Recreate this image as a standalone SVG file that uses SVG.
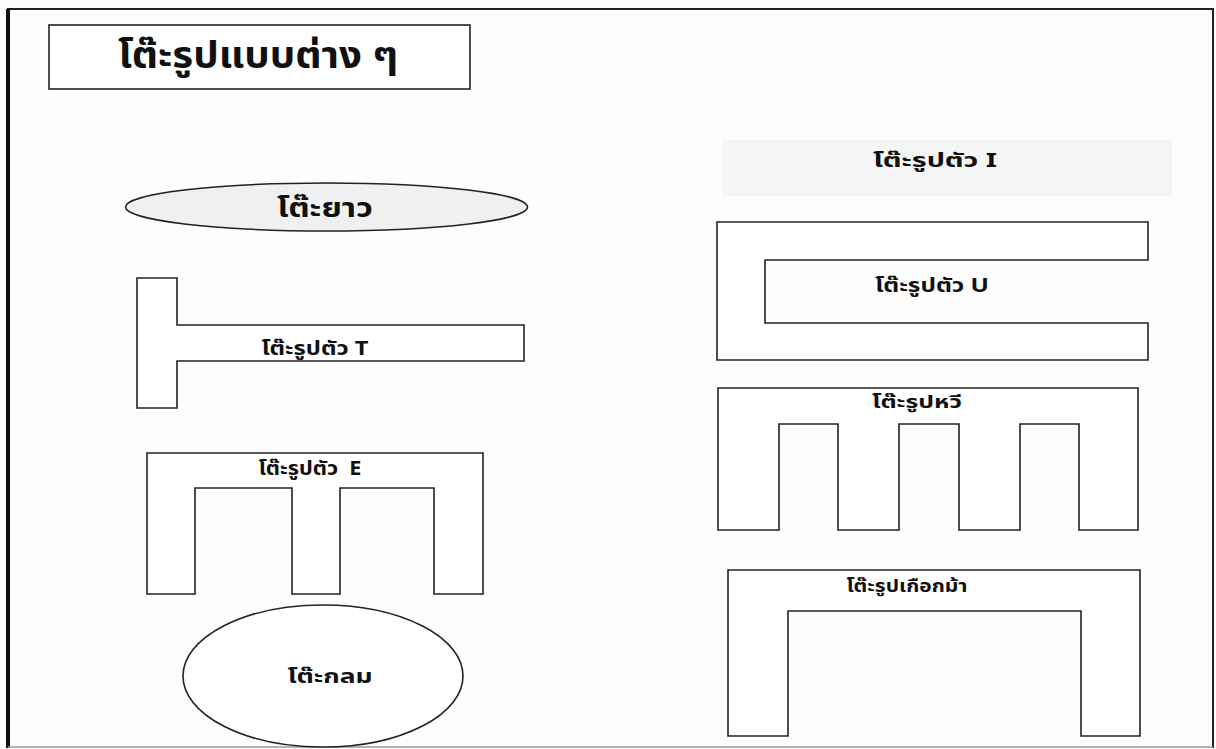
<svg xmlns="http://www.w3.org/2000/svg" width="1216" height="749" viewBox="0 0 1216 749">
<style>
.shape{fill:#fff;stroke:#222;stroke-width:1.6}
.lbl{font-family:"Noto Sans Thai","Noto Sans","DejaVu Sans","Liberation Sans",sans-serif;font-weight:bold;fill:#111;text-anchor:middle}
</style>
<rect x="0" y="0" width="1216" height="749" fill="#fdfdfd"/>
<g id="frame">
<path d="M8,748 V9 H1213 V748" fill="none" stroke="#222" stroke-width="2"/>
<line x1="8" y1="9" x2="8" y2="748" stroke="#111" stroke-width="4"/>
<line x1="8" y1="747" x2="1213" y2="747" stroke="#999" stroke-width="1.5"/>
</g>
<g id="title">
<rect x="49" y="25" width="421" height="64" class="shape"/>
<text x="258" y="68" class="lbl" font-size="38" textLength="280" lengthAdjust="spacingAndGlyphs">โต๊ะรูปแบบต่าง ๆ</text>
</g>
<g id="long-table">
<ellipse cx="326.5" cy="207" rx="201" ry="24" fill="#f0f0f0" stroke="#222" stroke-width="1.6"/>
<text x="325" y="217" class="lbl" font-size="26" textLength="96" lengthAdjust="spacingAndGlyphs">โต๊ะยาว</text>
</g>
<g id="t-table">
<path class="shape" d="M137,278 H177 V325 H524 V361 H177 V408 H137 Z"/>
<text x="315" y="355" class="lbl" font-size="20" textLength="107" lengthAdjust="spacingAndGlyphs">โต๊ะรูปตัว T</text>
</g>
<g id="e-table">
<path class="shape" d="M147,453 H483 V594 H434 V488 H340 V594 H292 V488 H195 V594 H147 Z"/>
<text x="310" y="475" class="lbl" font-size="19" textLength="103" lengthAdjust="spacingAndGlyphs" xml:space="preserve">โต๊ะรูปตัว  E</text>
</g>
<g id="round-table">
<ellipse cx="323" cy="676" rx="140" ry="71" class="shape"/>
<text x="330" y="683" class="lbl" font-size="20" textLength="85" lengthAdjust="spacingAndGlyphs">โต๊ะกลม</text>
</g>
<g id="i-table">
<rect x="722" y="140" width="450" height="56" fill="#f5f5f5" stroke="none"/>
<text x="935" y="167" class="lbl" font-size="20" textLength="124" lengthAdjust="spacingAndGlyphs">โต๊ะรูปตัว I</text>
</g>
<g id="u-table">
<path class="shape" d="M717,222 H1148 V260 H765 V323 H1148 V360 H717 Z"/>
<text x="932" y="292" class="lbl" font-size="19" textLength="114" lengthAdjust="spacingAndGlyphs">โต๊ะรูปตัว U</text>
</g>
<g id="comb-table">
<path class="shape" d="M718,388 H1138 V530 H1079 V424 H1020 V530 H959 V424 H899 V530 H838 V424 H779 V530 H718 Z"/>
<text x="917" y="408" class="lbl" font-size="18" textLength="90" lengthAdjust="spacingAndGlyphs">โต๊ะรูปหวี</text>
</g>
<g id="horseshoe-table">
<path class="shape" d="M728,570 H1140 V736 H1081 V611 H788 V736 H728 Z"/>
<text x="907" y="592" class="lbl" font-size="18" textLength="121" lengthAdjust="spacingAndGlyphs">โต๊ะรูปเกือกม้า</text>
</g>
</svg>
